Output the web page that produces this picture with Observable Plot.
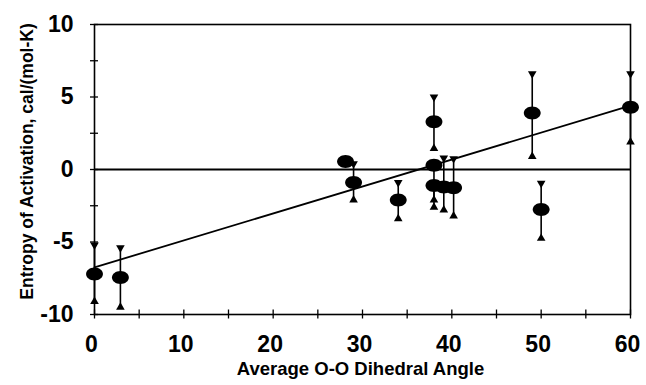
<!DOCTYPE html>
<html>
<head>
<meta charset="utf-8">
<script src="https://cdn.jsdelivr.net/npm/d3@7"></script>
<script src="https://cdn.jsdelivr.net/npm/@observablehq/plot@0.6"></script>
<style>
  html, body { margin: 0; padding: 0; background: #fff; }
  #chart svg { display: block; }
</style>
</head>
<body>
<div id="chart"></div>
<script>
// Data
const angle   = [0, 2.9, 28.1, 29.0, 34.0, 38.0, 38.0, 38.0, 39.1, 40.2, 49.0, 50.0, 60.0];
const entropy = [-7.2, -7.45, 0.55, -0.9, -2.1, 3.3, 0.3, -1.1, -1.2, -1.25, 3.9, -2.75, 4.3];
const errLow  = [-9.1, -9.5, 0.55, -2.1, -3.4, 1.45, -2.1, -2.6, -2.8, -3.2, 0.9, -4.75, 1.9];
const errHigh = [-5.2, -5.4, 0.55, 0.4, -0.9, 5.0, 0.3, -1.1, 0.8, 0.75, 6.6, -0.95, 6.6];
const fitX = [0, 60];
const fitY = [-6.75, 4.4];
const xTicks = [0, 10, 20, 30, 40, 50, 60];
const xMinorTicks = [0, 5, 10, 15, 20, 25, 30, 35, 40, 45, 50, 55, 60];
const yTicks = [-10, -5, 0, 5, 10];
const yMinorTicks = [-10, -7.5, -5, -2.5, 0, 2.5, 5, 7.5, 10];

const points = angle.map((x, i) => ({x, y: entropy[i], lo: errLow[i], hi: errHigh[i]}));
const fit = fitX.map((x, i) => ({x, y: fitY[i]}));

// Custom ellipse symbol (wider than tall)
const ellipse = {
  draw(ctx, size) {
    const r = Math.sqrt(size / Math.PI);
    const rx = r * 1.3, ry = r;
    const k = 0.5523;
    ctx.moveTo(rx, 0);
    ctx.bezierCurveTo(rx, ry * k, rx * k, ry, 0, ry);
    ctx.bezierCurveTo(-rx * k, ry, -rx, ry * k, -rx, 0);
    ctx.bezierCurveTo(-rx, -ry * k, -rx * k, -ry, 0, -ry);
    ctx.bezierCurveTo(rx * k, -ry, rx, -ry * k, rx, 0);
    ctx.closePath();
  }
};

const font = "'Liberation Sans', Arial, Helvetica, sans-serif";
const fmt = d => String(d);

const chart = Plot.plot({
  width: 646,
  height: 385,
  marginLeft: 94,
  marginRight: 16,
  marginTop: 24,
  marginBottom: 71,
  style: {fontFamily: font, background: "#fff", color: "#000"},
  x: {domain: [0, 60], label: null},
  y: {domain: [-10, 10], label: null},
  marks: [
    Plot.frame({stroke: "#000", strokeWidth: 1.6}),
    Plot.ruleY([0], {stroke: "#000", strokeWidth: 2}),
    // minor ticks crossing axes
    Plot.axisX({ticks: xMinorTicks, tickSize: 9, dy: -4.5, fill: "none", label: null, strokeWidth: 1.3}),
    Plot.axisY({ticks: yMinorTicks, tickSize: 8, dx: 4, fill: "none", label: null, strokeWidth: 1.3}),
    // tick labels
    Plot.axisX({ticks: xTicks, tickSize: 0, tickPadding: 21, dx: -3, tickFormat: fmt, fontSize: 23, fontWeight: "bold", label: null}),
    Plot.axisY({ticks: yTicks, tickSize: 0, tickPadding: 21, tickFormat: fmt, fontSize: 23, fontWeight: "bold", label: null}),
    // regression line
    Plot.line(fit, {x: "x", y: "y", stroke: "#000", strokeWidth: 1.8}),
    // error bars
    Plot.ruleX(points, {x: "x", y1: "lo", y2: "hi", stroke: "#000", strokeWidth: 1.6}),
    Plot.dot(points, {x: "x", y: "hi", symbol: "triangle", rotate: 180, r: 3.2, fill: "#000", stroke: null}),
    Plot.dot(points, {x: "x", y: "lo", symbol: "triangle", r: 3.2, fill: "#000", stroke: null}),
    // data points
    Plot.dot(points, {x: "x", y: "y", symbol: ellipse, r: 6.5, fill: "#000", stroke: null}),
    // axis titles
    Plot.text(["Average O-O Dihedral Angle"], {frameAnchor: "bottom", dy: 60, dx: -2, textAnchor: "middle", fontSize: 18.5, fontWeight: "bold", fill: "#000"}),
    Plot.text(["Entropy of Activation, cal/(mol-K)"], {frameAnchor: "left", dx: -67, dy: -8, rotate: -90, textAnchor: "middle", fontSize: 17.5, fontWeight: "bold", fill: "#000"})
  ]
});

document.getElementById("chart").appendChild(chart);
</script>
</body>
</html>
